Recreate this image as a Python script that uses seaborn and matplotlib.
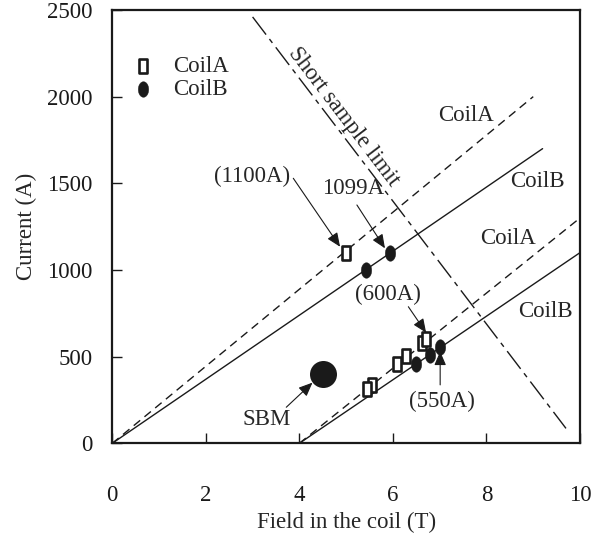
import numpy as np
import matplotlib
matplotlib.use("Agg")
import matplotlib.pyplot as plt
from matplotlib.path import Path
import seaborn as sns

# measured points
coilA_field = [5.0, 6.62, 6.71, 6.28, 6.09, 5.55, 5.44]
coilA_current = [1100, 580, 600, 504, 457, 336, 311]
coilB_field = [5.93, 5.42, 7.01, 6.79, 6.49]
coilB_current = [1099, 1000, 555, 509, 457]
sbm_field = [4.5]
sbm_current = [400]

# load lines
lineA1_x = [0, 9.0]
lineA1_y = [0, 2000]
lineB1_x = [0, 9.2]
lineB1_y = [0, 1700]
lineA2_x = [4, 10]
lineA2_y = [0, 1300]
lineB2_x = [4, 10]
lineB2_y = [0, 1100]
limit_x = [3.0, 9.7]
limit_y = [2460, 86]

x_ticks = [0, 2, 4, 6, 8, 10]
y_ticks = [0, 500, 1000, 1500, 2000, 2500]

sns.set_theme(style="white")
plt.rcParams['font.family'] = ['Liberation Serif', 'DejaVu Serif']
FS = 16.5

fig = plt.figure(figsize=(6.05, 5.46), dpi=100)
ax = fig.add_axes([0.1856, 0.1881, 0.7731, 0.7936])

sns.lineplot(x=lineA1_x, y=lineA1_y, ax=ax, color='k', lw=1.0,
             linestyle=(0, (6, 4)))
sns.lineplot(x=lineB1_x, y=lineB1_y, ax=ax, color='k', lw=1.0)
sns.lineplot(x=lineA2_x, y=lineA2_y, ax=ax, color='k', lw=1.0,
             linestyle=(0, (6, 4)))
sns.lineplot(x=lineB2_x, y=lineB2_y, ax=ax, color='k', lw=1.0)
sns.lineplot(x=limit_x, y=limit_y, ax=ax, color='k', lw=1.0,
             linestyle=(0, (16, 4, 3.5, 4)))

# marker shapes: tall open rectangle and tall ellipse
rect = Path([(-0.6, -1), (0.6, -1), (0.6, 1), (-0.6, 1), (-0.6, -1)], closed=True)
t = np.linspace(0, 2 * np.pi, 60)
ell = Path(np.column_stack([0.67 * np.cos(t), np.sin(t)]), closed=True)

sns.scatterplot(x=coilA_field, y=coilA_current, ax=ax, marker=rect, s=100,
                facecolor='white', edgecolor='k', linewidth=1.9, label='CoilA', zorder=5)
sns.scatterplot(x=coilB_field, y=coilB_current, ax=ax, marker=ell, s=125,
                facecolor='k', edgecolor='k', linewidth=0.3, label='CoilB', zorder=5)
sns.scatterplot(x=sbm_field, y=sbm_current, ax=ax, marker='o', s=324,
                facecolor='k', edgecolor='k', zorder=5)

ax.set_xlim(0, 10)
ax.set_ylim(0, 2500)
ax.set_xticks(x_ticks)
ax.set_yticks(y_ticks)
ax.tick_params(axis='both', direction='in', length=7, width=1, labelsize=FS,
               colors='k', bottom=True, left=True, top=False, right=False)
ax.tick_params(axis='x', pad=30)
ax.tick_params(axis='y', pad=14)
for sp in ax.spines.values():
    sp.set_color('k')
    sp.set_linewidth(1.6)

ax.set_xlabel("Field in the coil (T)", fontsize=FS)
ax.set_ylabel("Current (A)", fontsize=FS)
ax.xaxis.set_label_coords(0.5, -0.159)
ax.yaxis.set_label_coords(-0.16, 0.5)

ax.legend(loc='upper left', bbox_to_anchor=(0.0464, 0.894), frameon=False,
          fontsize=FS, handlelength=0.8, handletextpad=0.9, labelspacing=0.1,
          borderpad=0, borderaxespad=0)

# line labels
ax.text(7.56, 1894, "CoilA", fontsize=FS, ha='center', va='center')
ax.text(9.09, 1509, "CoilB", fontsize=FS, ha='center', va='center')
ax.text(8.45, 1183, "CoilA", fontsize=FS, ha='center', va='center')
ax.text(9.27, 759, "CoilB", fontsize=FS, ha='center', va='center')
ax.text(4.95, 1882, "Short sample limit", fontsize=FS, ha='center', va='center',
        rotation=-52.6, rotation_mode='anchor')

# annotations with arrows
arrow = dict(arrowstyle='-|>,head_length=0.7,head_width=0.3', color='k', lw=0.8,
             mutation_scale=12, shrinkA=0, shrinkB=0)
ax.text(2.98, 1538, "(1100A)", fontsize=FS, ha='center', va='center')
ax.annotate('', xy=(4.87, 1134), xytext=(3.87, 1529), arrowprops=arrow)
ax.text(5.14, 1471, "1099A", fontsize=FS, ha='center', va='center')
ax.annotate('', xy=(5.83, 1125), xytext=(5.23, 1375), arrowprops=arrow)
ax.text(5.90, 856, "(600A)", fontsize=FS, ha='center', va='center')
ax.annotate('', xy=(6.71, 638), xytext=(6.33, 788), arrowprops=arrow)
ax.text(7.04, 240, "(550A)", fontsize=FS, ha='center', va='center')
ax.annotate('', xy=(7.01, 530), xytext=(7.01, 337), arrowprops=arrow)
ax.text(3.31, 140, "SBM", fontsize=FS, ha='center', va='center')
ax.annotate('', xy=(4.28, 350), xytext=(3.72, 208), arrowprops=arrow)

fig.savefig("out.png", dpi=100)
